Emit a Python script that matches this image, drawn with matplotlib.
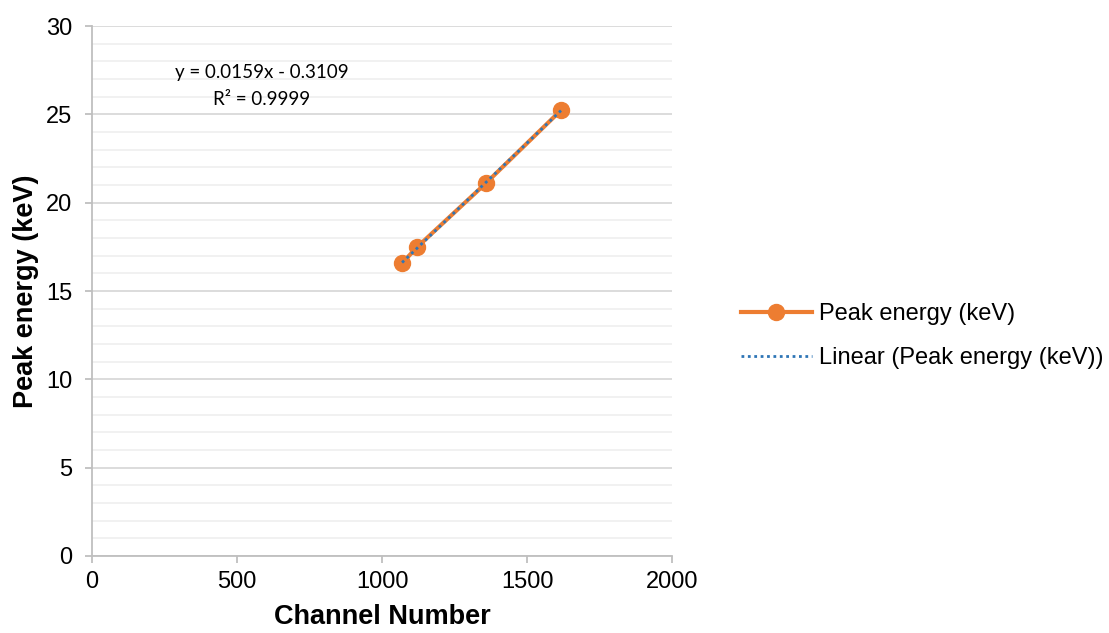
import numpy as np
import matplotlib
matplotlib.use('Agg')
import matplotlib.pyplot as plt
from matplotlib.ticker import MultipleLocator

channel = [1069, 1121, 1359, 1617]
energy = [16.58, 17.49, 21.12, 25.24]
eq_text = 'y = 0.0159x - 0.3109\nR² = 0.9999'

plt.rcParams['font.family'] = ['Liberation Sans', 'DejaVu Sans']

fig = plt.figure(figsize=(11.09, 6.33), dpi=100)
ax = fig.add_axes([0.083, 0.1217, 0.523, 0.837])

ax.plot(channel, energy, color='#ED7D31', linewidth=3, marker='o', markersize=11.5,
        label='Peak energy (keV)', zorder=3)

# linear trendline
coef = np.polyfit(channel, energy, 1)
xs = np.array([min(channel), max(channel)])
ax.plot(xs, np.polyval(coef, xs), color='#2E75B6', linewidth=2, linestyle=(0, (1, 1.3)),
        label='Linear (Peak energy (keV))', zorder=4)

ax.text(586, 26.6, eq_text, ha='center', va='center', fontsize=13.5, family=['Lato', 'DejaVu Sans'],
        linespacing=1.75)

ax.set_xlim(0, 2000)
ax.set_ylim(0, 30)
ax.xaxis.set_major_locator(MultipleLocator(500))
ax.yaxis.set_major_locator(MultipleLocator(5))
ax.yaxis.set_minor_locator(MultipleLocator(1))
ax.grid(axis='y', which='major', color='#d9d9d9', linewidth=1.3)
ax.grid(axis='y', which='minor', color='#f0f0f0', linewidth=1.3)
ax.set_axisbelow(True)
ax.tick_params(axis='both', which='major', labelsize=17, color='#bfbfbf', length=5, width=1.3)
ax.tick_params(axis='y', which='minor', length=0)
ax.tick_params(axis='x', pad=6)
ax.tick_params(axis='y', pad=9)
for s in ['top', 'right']:
    ax.spines[s].set_visible(False)
for s in ['left', 'bottom']:
    ax.spines[s].set_color('#bfbfbf')
    ax.spines[s].set_linewidth(1.3)

ax.set_xlabel('Channel Number', fontsize=19.5, fontweight='bold', labelpad=8)
ax.set_ylabel('Peak energy (keV)', fontsize=19.5, fontweight='bold', labelpad=5)

fig.legend(loc='center left', bbox_to_anchor=(0.649, 0.469), frameon=False, fontsize=17,
           handlelength=3.0, handletextpad=0.3, labelspacing=0.95)

plt.savefig('out.png', dpi=100)
